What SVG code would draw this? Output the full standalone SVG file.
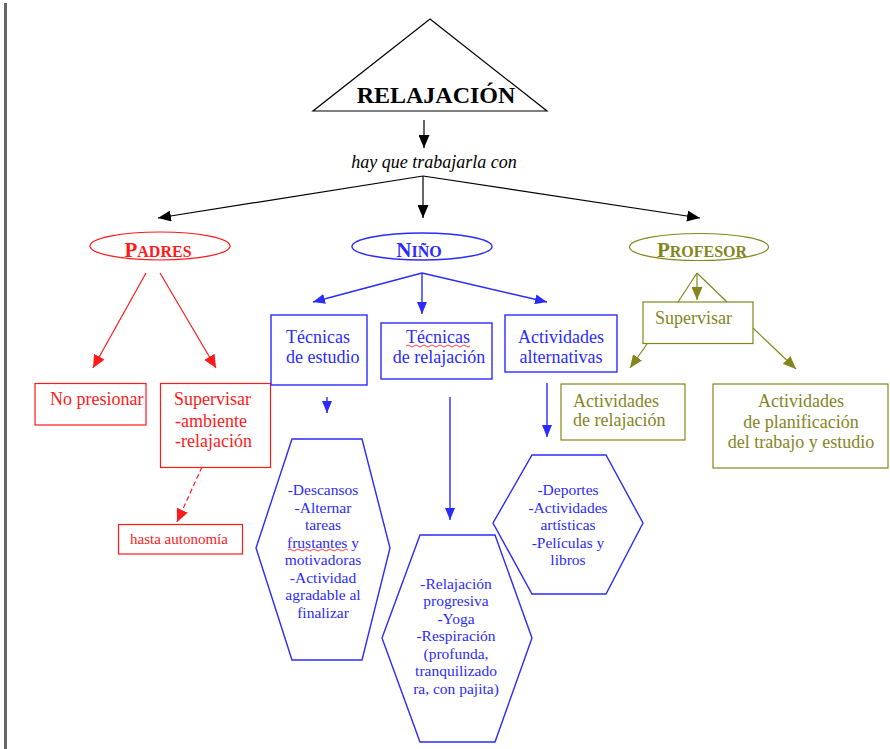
<svg xmlns="http://www.w3.org/2000/svg" width="890" height="749" viewBox="0 0 890 749">
<style>
text{font-family:"Liberation Serif","Times New Roman",serif}
.k{stroke:#000;stroke-width:1.2;fill:none}
.r{stroke:#ff1a1a;stroke-width:1.2;fill:none}
.b{stroke:#2b2bff;stroke-width:1.4;fill:none}
.o{stroke:#85851f;stroke-width:1.2;fill:none}
.tr{fill:#ff1a1a;font-size:18px}
.tb{fill:#2b2bff;font-size:18px}
.to{fill:#85851f;font-size:18px}
.hx{fill:#2b2bff;font-size:15.5px;text-anchor:middle}
.sq{stroke:#ff2a2a;stroke-width:0.9;fill:none}
</style>
<defs>
<marker id="ak" markerUnits="userSpaceOnUse" markerWidth="13" markerHeight="11" refX="13" refY="5.5" orient="auto"><path d="M0,0 L13,5.5 L0,11 z" fill="#000"/></marker>
<marker id="ar" markerUnits="userSpaceOnUse" markerWidth="13" markerHeight="12" refX="13" refY="6" orient="auto"><path d="M0,0 L13,6 L0,12 z" fill="#ff1a1a"/></marker>
<marker id="ab" markerUnits="userSpaceOnUse" markerWidth="12" markerHeight="10" refX="12" refY="5" orient="auto"><path d="M0,0 L12,5 L0,10 z" fill="#2b2bff"/></marker>
<marker id="ao" markerUnits="userSpaceOnUse" markerWidth="13" markerHeight="11" refX="13" refY="5.5" orient="auto"><path d="M0,0 L13,5.5 L0,11 z" fill="#85851f"/></marker>
</defs>
<rect width="890" height="749" fill="#fff"/>
<line x1="5.5" y1="3" x2="5.5" y2="749" stroke="#666" stroke-width="3"/>

<g id="connectors">
<line class="k" x1="424" y1="120" x2="424" y2="148" marker-end="url(#ak)"/>
<line class="k" x1="423" y1="176" x2="158" y2="218" marker-end="url(#ak)"/>
<line class="k" x1="423" y1="176" x2="423" y2="218" marker-end="url(#ak)"/>
<line class="k" x1="423" y1="176" x2="700" y2="218" marker-end="url(#ak)"/>
<line class="r" x1="146" y1="273" x2="93" y2="368" marker-end="url(#ar)"/>
<line class="r" x1="160" y1="273" x2="216" y2="368" marker-end="url(#ar)"/>
<line class="r" x1="202" y1="467" x2="177" y2="522" stroke-dasharray="5,3" marker-end="url(#ar)"/>
<line class="b" x1="422" y1="273" x2="313" y2="302" marker-end="url(#ab)"/>
<line class="b" x1="422" y1="273" x2="422" y2="314" marker-end="url(#ab)"/>
<line class="b" x1="422" y1="273" x2="547" y2="302" marker-end="url(#ab)"/>
<line class="b" x1="327" y1="397" x2="327" y2="413" marker-end="url(#ab)"/>
<line class="b" x1="450" y1="397" x2="450" y2="520" marker-end="url(#ab)"/>
<line class="b" x1="547" y1="383" x2="547" y2="437" marker-end="url(#ab)"/>
<line class="o" x1="697" y1="273" x2="678" y2="302"/>
<line class="o" x1="697" y1="273" x2="727" y2="302"/>
<line class="o" x1="697" y1="273" x2="697" y2="300" marker-end="url(#ao)"/>
<line class="o" x1="647" y1="344" x2="630" y2="368" marker-end="url(#ao)"/>
<line class="o" x1="753" y1="328" x2="796" y2="369" marker-end="url(#ao)"/>
</g>

<g id="relajacion">
<polygon class="k" points="430,19 547,111 313,111"/>
<text x="436" y="103" text-anchor="middle" font-size="24" font-weight="bold" fill="#000">RELAJACIÓN</text>
</g>
<g id="hay-que">
<text x="434" y="168" text-anchor="middle" font-size="18" font-style="italic" fill="#000">hay que trabajarla con</text>
</g>

<g id="padres">
<ellipse class="r" cx="160" cy="246" rx="70" ry="14"/>
<text x="158" y="257" text-anchor="middle" fill="#ff1a1a" font-weight="bold"><tspan font-size="21">P</tspan><tspan font-size="16">ADRES</tspan></text>
</g>
<g id="nino">
<ellipse class="b" cx="422" cy="246.5" rx="70" ry="13.5"/>
<text x="419" y="257" text-anchor="middle" fill="#2b2bff" font-weight="bold"><tspan font-size="21">N</tspan><tspan font-size="16">IÑO</tspan></text>
</g>
<g id="profesor">
<ellipse class="o" cx="699" cy="247" rx="69.5" ry="13.5"/>
<text x="702" y="257" text-anchor="middle" fill="#85851f" font-weight="bold"><tspan font-size="21">P</tspan><tspan font-size="16">ROFESOR</tspan></text>
</g>

<g id="no-presionar">
<rect class="r" x="35" y="383.5" width="111" height="41.5"/>
<text class="tr" x="50" y="405">No presionar</text>
</g>
<g id="supervisar-padres">
<rect class="r" x="160.5" y="383.5" width="110" height="84"/>
<text class="tr" x="174" y="405">Supervisar</text>
<text class="tr" x="175" y="426.5">-ambiente</text>
<text class="tr" x="175" y="446.5">-relajación</text>
</g>
<g id="hasta-autonomia">
<rect class="r" x="118.5" y="524.5" width="124" height="29.5"/>
<text x="130" y="543.5" fill="#ff1a1a" font-size="15">hasta autonomía</text>
</g>

<g id="tecnicas-estudio">
<rect class="b" x="271" y="315" width="96" height="70"/>
<text class="tb" x="286" y="343">Técnicas</text>
<text class="tb" x="286" y="363">de estudio</text>
</g>
<g id="tecnicas-relajacion">
<rect class="b" x="381" y="323" width="111" height="56"/>
<text class="tb" x="438" y="343" text-anchor="middle">Técnicas</text>
<path class="sq" d="M406,346 q2,-2 4,0 t4,0 t4,0 t4,0 t4,0 t4,0 t4,0 t4,0 t4,0 t4,0 t4,0 t4,0 t4,0 t4,0 t4,0 t4,0"/>
<text class="tb" x="439" y="363" text-anchor="middle">de relajación</text>
</g>
<g id="actividades-alternativas">
<rect class="b" x="505" y="315" width="112" height="57"/>
<text class="tb" x="561" y="343" text-anchor="middle">Actividades</text>
<text class="tb" x="561" y="363" text-anchor="middle">alternativas</text>
</g>

<g id="hex-estudio">
<polygon class="b" points="292,439 362,439 390,548 362,660 292,660 256,548"/>
<text class="hx" x="323" y="495">-Descansos</text>
<text class="hx" x="323" y="512.5">-Alternar</text>
<text class="hx" x="323" y="530">tareas</text>
<text class="hx" x="323" y="547.5">frustantes y</text>
<path class="sq" d="M288,550 q2,-2 4,0 t4,0 t4,0 t4,0 t4,0 t4,0 t4,0 t4,0 t4,0 t4,0 t4,0 t4,0 t4,0 t4,0 t4,0"/>
<text class="hx" x="323" y="565">motivadoras</text>
<text class="hx" x="323" y="582.5">-Actividad</text>
<text class="hx" x="323" y="600">agradable al</text>
<text class="hx" x="323" y="617.5">finalizar</text>
</g>
<g id="hex-relajacion">
<polygon class="b" points="420,535 495,535 532,638 495,742 420,742 382,638"/>
<text class="hx" x="456" y="588.5">-Relajación</text>
<text class="hx" x="456" y="606">progresiva</text>
<text class="hx" x="456" y="623.5">-Yoga</text>
<text class="hx" x="456" y="641">-Respiración</text>
<text class="hx" x="456" y="658.5">(profunda,</text>
<text class="hx" x="456" y="676">tranquilizado</text>
<text class="hx" x="456" y="693.5">ra, con pajita)</text>
</g>
<g id="hex-alternativas">
<polygon class="b" points="532,455 606,455 643,523 606,594 532,594 493,523"/>
<text class="hx" x="568" y="495">-Deportes</text>
<text class="hx" x="568" y="512.5">-Actividades</text>
<text class="hx" x="568" y="530">artísticas</text>
<text class="hx" x="568" y="547.5">-Películas y</text>
<text class="hx" x="568" y="565">libros</text>
</g>

<g id="supervisar-profesor">
<rect class="o" x="643" y="302" width="110" height="41.5"/>
<text class="to" x="655" y="323.5">Supervisar</text>
</g>
<g id="actividades-relajacion">
<rect class="o" x="561" y="384" width="124" height="56"/>
<text class="to" x="573" y="406.5">Actividades</text>
<text class="to" x="573" y="425.5">de relajación</text>
</g>
<g id="actividades-planificacion">
<rect class="o" x="713" y="384" width="175" height="84"/>
<text class="to" x="801" y="406.5" text-anchor="middle">Actividades</text>
<text class="to" x="801" y="428" text-anchor="middle">de planificación</text>
<text class="to" x="801" y="448" text-anchor="middle">del trabajo y estudio</text>
</g>
</svg>
